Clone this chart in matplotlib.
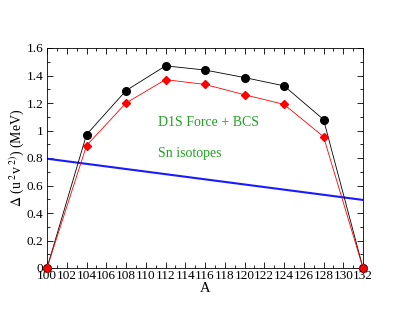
import matplotlib
matplotlib.use("Agg")
import matplotlib.pyplot as plt
from matplotlib.ticker import MultipleLocator

A = [100, 104, 108, 112, 116, 120, 124, 128, 132]
black_vals = [0.0, 0.97, 1.29, 1.47, 1.44, 1.385, 1.325, 1.08, 0.0]
red_vals = [0.0, 0.89, 1.20, 1.37, 1.335, 1.26, 1.19, 0.955, 0.0]
blue_x = [100, 132]
blue_y = [0.795, 0.495]
x_ticks = list(range(100, 133, 2))
y_ticks = [0, 0.2, 0.4, 0.6, 0.8, 1.0, 1.2, 1.4, 1.6]
y_labels = ['0', '0.2', '0.4', '0.6', '0.8', '1', '1.2', '1.4', '1.6']

plt.rcParams['font.family'] = ['Liberation Serif', 'DejaVu Serif']
plt.rcParams['mathtext.fontset'] = 'stix'
fig = plt.figure(figsize=(4.09, 3.16), dpi=100)
ax = fig.add_axes([47/409, 1-268/316, 316/409, 220/316])

ax.plot(blue_x, blue_y, color='#1a1aff', lw=1.5)
ax.plot(A, black_vals, color='black', lw=0.6, marker='o', ms=5.5, zorder=3, clip_on=False)
ax.plot(A, red_vals, color='red', lw=0.6, marker='D', ms=4, zorder=4, clip_on=False)

ax.set_xlim(100, 132)
ax.set_ylim(0, 1.6)
ax.set_xticks(x_ticks)
ax.set_xticklabels([str(v) for v in x_ticks])
ax.xaxis.set_minor_locator(MultipleLocator(1))
ax.set_yticks(y_ticks)
ax.set_yticklabels(y_labels)
ax.yaxis.set_minor_locator(MultipleLocator(0.1))
ax.tick_params(which='both', direction='in', top=True, right=True, labelsize=9.5, pad=1.5)
ax.tick_params(axis='y', which='major', pad=2.5)
ax.tick_params(which='major', length=4, width=0.6)
ax.tick_params(which='minor', length=2, width=0.6)
for s in ax.spines.values():
    s.set_linewidth(0.6)

ax.set_xlabel('A', fontsize=10.5, labelpad=0)
ax.set_ylabel(r'$\Delta$ (u$^{\ 2}$v$^{\ 2)}$) (MeV)', fontsize=10)
ax.yaxis.set_label_coords(-0.068, 0.5)

ax.text(111.2, 1.055, 'D1S Force + BCS', color='#22a022', fontsize=10, va='center')
ax.text(111.2, 0.83, 'Sn isotopes', color='#22a022', fontsize=10, va='center')

fig.savefig('out.png', dpi=100)
